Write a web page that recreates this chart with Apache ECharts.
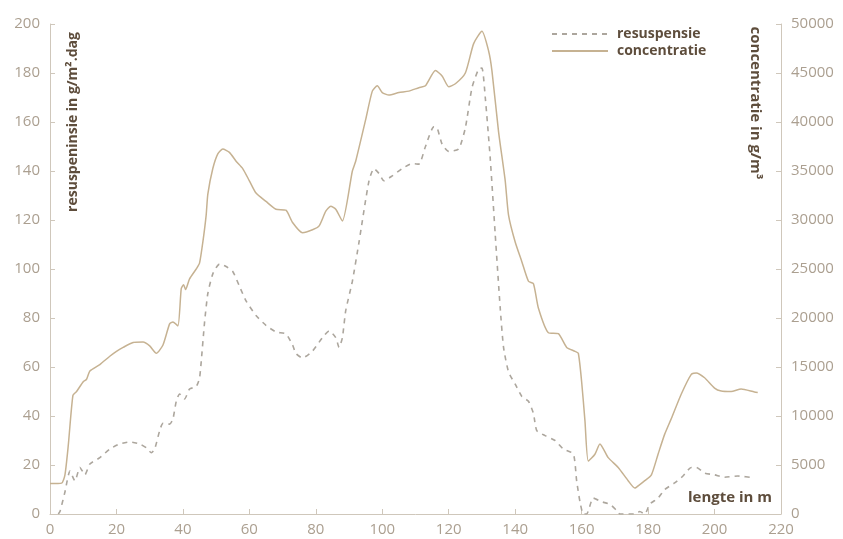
<!DOCTYPE html>
<html>
<head>
<meta charset="utf-8">
<script src="https://cdn.jsdelivr.net/npm/echarts@6/dist/echarts.min.js"></script>
<style>
  html, body { margin: 0; padding: 0; background: #ffffff; }
  #chart { width: 843px; height: 539px; }
</style>
</head>
<body>
<div id="chart"></div>
<script>
// Lengte (m) and concentration (g/m³) along the profile
const concLengte = [0, 3.5, 4.5, 5.5, 6.9, 8, 10, 11, 12, 15, 18, 20, 22, 25, 28, 30, 32, 34, 36, 37, 38.5, 39.5, 40.2, 40.8, 42, 44, 45, 46, 47, 47.5, 49, 50.5, 52, 54, 56, 58, 60, 62, 65, 68, 71, 73, 76, 79, 81, 83, 84.5, 86, 88, 91, 92, 95, 97, 98.5, 100, 102, 105, 108, 111, 113, 116, 118, 120, 122, 125, 127.5, 130, 132, 133, 135, 137, 138, 140, 142, 144, 145.5, 147, 150, 153, 155.5, 158, 159, 160, 161, 162, 164, 165.5, 168, 171, 174, 176, 177.5, 179, 181, 183, 185, 187, 190, 193, 194.5, 197, 200, 202, 205, 208, 212, 213];
const concentratie = [3100, 3150, 4000, 7000, 12100, 12500, 13500, 13750, 14600, 15250, 16100, 16600, 17000, 17500, 17550, 17150, 16400, 17250, 19400, 19600, 19200, 23000, 23400, 22900, 24000, 25000, 25600, 27750, 30500, 32650, 35250, 36750, 37250, 36900, 36000, 35250, 34000, 32750, 31900, 31100, 31000, 29750, 28700, 29000, 29400, 30900, 31400, 31100, 29900, 35000, 36000, 40250, 43150, 43700, 43000, 42750, 43000, 43150, 43500, 43700, 45250, 44700, 43600, 43900, 45000, 48000, 49250, 47250, 45250, 39000, 34000, 30500, 27750, 25750, 23750, 23500, 21000, 18500, 18400, 17000, 16600, 16400, 13500, 9500, 5400, 6100, 7150, 5750, 4750, 3400, 2650, 3000, 3400, 4000, 6100, 8150, 9750, 12250, 14250, 14400, 13900, 12850, 12550, 12500, 12750, 12450, 12400];

// Lengte (m) and resuspension (g/m².dag)
const resLengte = [2.5, 3, 4.5, 6, 7.5, 9, 10.5, 12, 15, 18, 21, 24, 27, 29, 30.5, 31.5, 33, 34, 36, 37, 38, 39, 40.5, 42, 44, 45, 45.5, 46.5, 47.5, 49, 51, 53, 55, 57, 59, 62, 65, 68, 71, 73, 74, 76, 79, 82, 84, 86, 87, 88, 89, 91, 93, 96, 97.5, 99, 100.5, 103, 106, 109, 111, 113, 115.5, 116.5, 118, 120, 123, 125, 127, 129, 130, 131, 132.5, 134, 135.5, 136.5, 138, 140, 142, 144, 145.5, 146.5, 149, 152, 154.5, 157.5, 158.5, 159.5, 160.5, 161.5, 163.5, 166, 168.5, 170.5, 171.5, 176, 177.5, 179, 180.5, 183, 185, 188, 190.5, 193, 194.5, 197, 200, 203, 207, 212];
const resuspensie = [0, 1, 9, 17.5, 13.5, 19, 16, 20.4, 23, 26.5, 28.6, 29.4, 28.6, 27, 25, 26.5, 34, 37, 36.7, 38.8, 46, 49, 47, 51, 52, 55.5, 62, 78, 90, 98, 102, 101, 99, 93, 87, 81, 77, 74.3, 73.5, 69, 65.5, 63.7, 66.5, 72, 74.7, 72, 68, 72, 83, 95, 111, 136, 141, 139, 136, 138, 141, 143, 142.8, 150, 158, 157.6, 151, 148, 149, 157.6, 174, 181.6, 182, 170, 145, 114, 84, 68, 58, 53, 48, 46, 41, 34, 32, 30, 26.5, 24.5, 13.5, 5, 0, 0, 6.5, 5, 4, 1.5, 0, 0, 1, 0, 4, 6.5, 10, 12.7, 15.5, 19, 19, 16.7, 16, 15, 15.5, 14.7];

const seriesNames = ['resuspensie', 'concentratie'];

const labelColor = '#ab9f90';
const axisColor = '#cfc7bb';
const titleColor = '#5e4d3c';
const fontFamily = '"Open Sans", "Noto Sans", sans-serif';

const pairs = (xs, ys) => xs.map((x, i) => [x, ys[i]]);

const chart = echarts.init(document.getElementById('chart'), null, { renderer: 'canvas' });

chart.setOption({
  animation: false,
  backgroundColor: '#ffffff',
  grid: { left: 50, right: 62, top: 24, bottom: 25, containLabel: false },
  legend: {
    orient: 'vertical',
    left: 546,
    top: 22,
    itemWidth: 56,
    itemHeight: 12,
    itemGap: 3,
    data: seriesNames,
    itemStyle: { opacity: 0 },
    textStyle: { color: titleColor, fontSize: 14, fontWeight: 'bold', fontFamily: fontFamily, padding: [0, 0, 0, 4] }
  },
  xAxis: {
    type: 'value',
    min: 0,
    max: 220,
    interval: 20,
    axisLine: { show: true, lineStyle: { color: axisColor, width: 1 } },
    axisTick: { show: true, inside: true, length: 5, lineStyle: { color: axisColor } },
    axisLabel: { color: labelColor, fontSize: 15, fontFamily: fontFamily, margin: 8, showMaxLabel: true },
    splitLine: { show: false }
  },
  yAxis: [
    {
      type: 'value',
      min: 0,
      max: 200,
      interval: 20,
      axisLine: { show: true, lineStyle: { color: axisColor, width: 1 } },
      axisTick: { show: true, inside: true, length: 5, lineStyle: { color: axisColor } },
      axisLabel: { color: labelColor, fontSize: 15, fontFamily: fontFamily, margin: 10 },
      splitLine: { show: false }
    },
    {
      type: 'value',
      min: 0,
      max: 50000,
      interval: 5000,
      position: 'right',
      axisLine: { show: true, lineStyle: { color: axisColor, width: 1 } },
      axisTick: { show: true, inside: true, length: 5, lineStyle: { color: axisColor } },
      axisLabel: { color: labelColor, fontSize: 15, fontFamily: fontFamily, margin: 10, formatter: (v) => String(v) },
      splitLine: { show: false }
    }
  ],
  graphic: [
    {
      type: 'text',
      x: 73, y: 122,
      rotation: Math.PI / 2,
      style: {
        text: 'resuspeninsie in g/m².dag',
        fill: titleColor,
        font: 'bold 14px "Open Sans", "Noto Sans", sans-serif',
        textAlign: 'center',
        textVerticalAlign: 'middle'
      }
    },
    {
      type: 'text',
      x: 755, y: 103,
      rotation: -Math.PI / 2,
      style: {
        text: 'concentratie in g/m³',
        fill: titleColor,
        font: 'bold 15px "Open Sans", "Noto Sans", sans-serif',
        textAlign: 'center',
        textVerticalAlign: 'middle'
      }
    },
    {
      type: 'text',
      x: 730, y: 498,
      style: {
        text: 'lengte in m',
        fill: titleColor,
        font: 'bold 15px "Open Sans", "Noto Sans", sans-serif',
        textAlign: 'center',
        textVerticalAlign: 'middle'
      }
    }
  ],
  series: [
    {
      name: seriesNames[0],
      type: 'line',
      yAxisIndex: 0,
      data: pairs(resLengte, resuspensie),
      symbol: 'none',
      smooth: 0.2,
      color: '#aca69d',
      lineStyle: { color: '#aca69d', width: 1.6, type: [5, 5] }
    },
    {
      name: seriesNames[1],
      type: 'line',
      yAxisIndex: 1,
      data: pairs(concLengte, concentratie),
      symbol: 'none',
      smooth: 0.2,
      color: '#c6b292',
      lineStyle: { color: '#c6b292', width: 1.5 }
    }
  ]
});
</script>
</body>
</html>
